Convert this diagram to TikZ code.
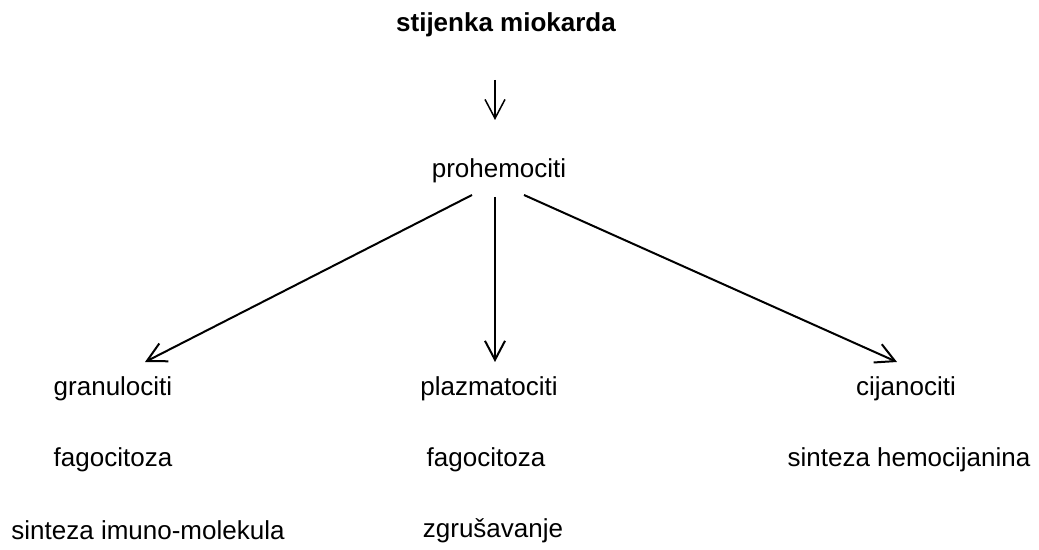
\documentclass[tikz,border=0pt]{standalone}
\usepackage{fontspec}
\setmainfont{Liberation Sans}
\usetikzlibrary{arrows.meta}

\begin{document}
\begin{tikzpicture}[x=0.5pt,y=-0.5pt,
  lbl/.style={anchor=base,inner sep=0pt,font=\fontsize{13}{16}\selectfont},
  arr/.style={line width=1pt,-{Straight Barb[length=9.5pt,width=10pt]}}]
\useasboundingbox (0,0) rectangle (1039,550);

% labels
\node[lbl,font=\fontsize{13}{16}\selectfont\bfseries] (stijenka) at (506,32) {stijenka miokarda};
\node[lbl] (prohem) at (499,178) {prohemociti};
\node[lbl] (granul) at (113,396) {granulociti};
\node[lbl] (plazma) at (489,396) {plazmatociti};
\node[lbl] (cijano) at (906,396) {cijanociti};
\node[lbl] (fagoA) at (113,467) {fagocitoza};
\node[lbl] (fagoB) at (486,467) {fagocitoza};
\node[lbl] (sintHem) at (909,467) {sinteza hemocijanina};
\node[lbl] (sintImuno) at (148,539) {sinteza imuno-molekula};
\node[lbl] (zgrus) at (493,538) {zgrušavanje};

% arrow ends
\coordinate (topA) at (495,80);
\coordinate (topB) at (495,120);
\coordinate (fromL) at (472,195);
\coordinate (fromM) at (495,197);
\coordinate (fromR) at (524,195);
\coordinate (toL) at (145,362);
\coordinate (toM) at (495,362);
\coordinate (toR) at (897,362);

\draw[arr,line width=0.75pt] (topA) -- (topB);
\draw[arr] (fromL) -- (toL);
\draw[arr] (fromM) -- (toM);
\draw[arr] (fromR) -- (toR);
\end{tikzpicture}
\end{document}
